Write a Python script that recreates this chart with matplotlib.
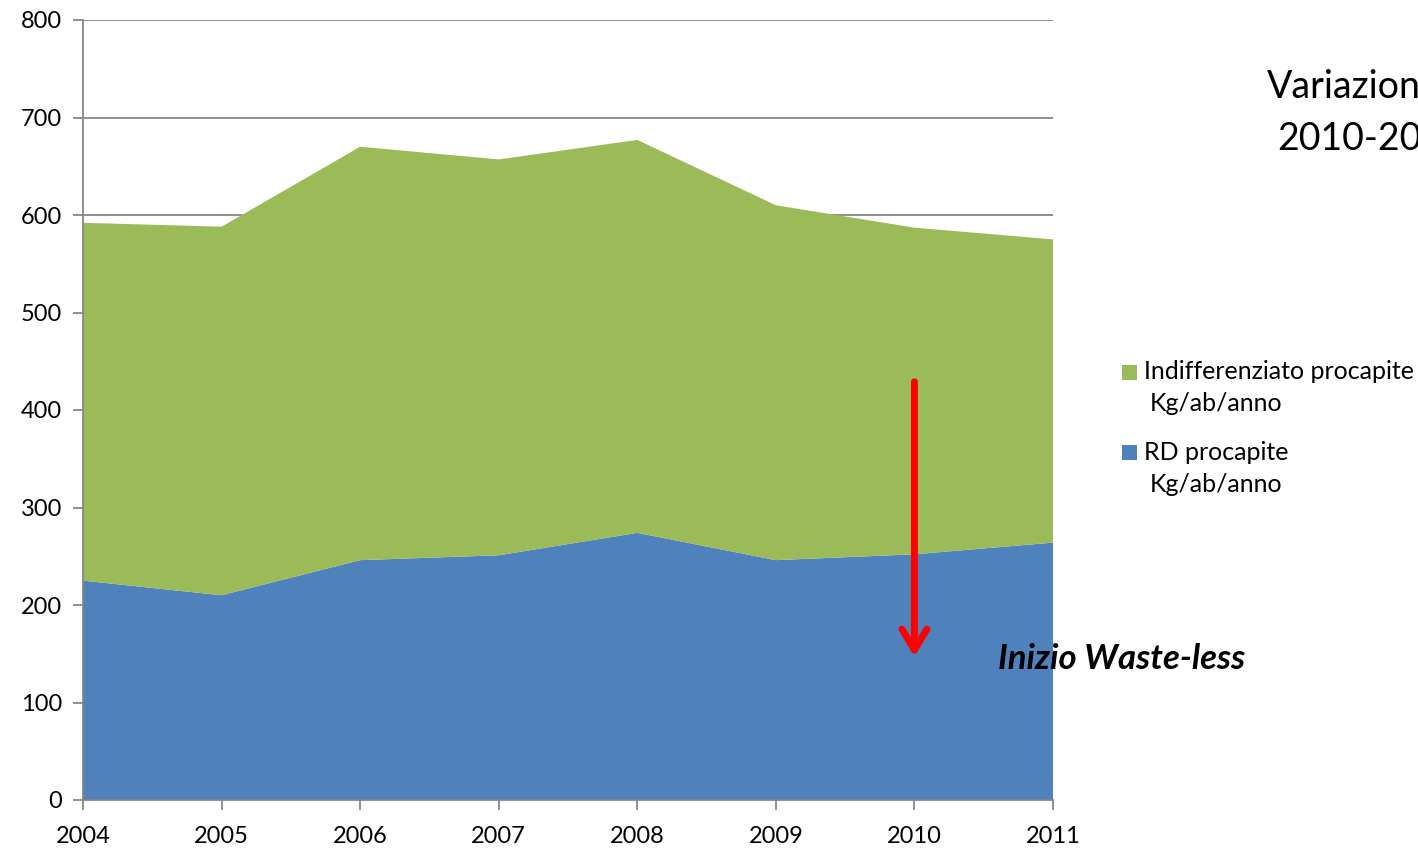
import matplotlib.pyplot as plt
from matplotlib.patches import Rectangle
import numpy as np

plt.rcParams['font.family'] = ['Lato', 'DejaVu Sans']

years = [2004, 2005, 2006, 2007, 2008, 2009, 2010, 2011]
rd = [225, 210, 246, 251, 274, 246, 252, 264]
indiff = [367, 378, 424, 406, 403, 364, 335, 311]
series_names = ['RD procapite', 'Indifferenziato procapite']
unit = 'Kg/ab/anno'

green = '#9BBB59'
blue = '#4F81BD'
grid_col = '#868686'

W, H = 1418, 848
fig = plt.figure(figsize=(W / 100, H / 100), dpi=100)
ax = fig.add_axes([83 / W, 48 / H, 970 / W, 780 / H])

ax.stackplot(years, rd, indiff, colors=[blue, green], zorder=2)

ax.set_xlim(2004, 2011)
ax.set_ylim(0, 800)
ax.set_xticks(years)
ax.set_yticks(np.arange(0, 801, 100))
ax.yaxis.grid(True, color=grid_col, linewidth=1.3, zorder=1)
ax.set_axisbelow(True)
for side in ['top', 'right']:
    ax.spines[side].set_visible(False)
for side in ['left', 'bottom']:
    ax.spines[side].set_color(grid_col)
    ax.spines[side].set_linewidth(1.3)
    ax.spines[side].set_zorder(3)
ax.tick_params(axis='both', colors=grid_col, length=7, width=1.3, labelcolor='black',
               labelsize=17)
ax.tick_params(axis='x', pad=12)
ax.tick_params(axis='y', pad=8)

# arrow at 2010
ax.annotate('', xy=(2010, 147), xytext=(2010, 429),
            arrowprops=dict(arrowstyle='->,head_length=1.5,head_width=0.9',
                            color='red', lw=5, shrinkA=0, shrinkB=0), zorder=5)
ax.text(2010.6, 145, 'Inizio Waste-less', fontsize=25, fontweight='bold',
        fontstyle='italic', ha='left', va='center', clip_on=False)

# title on the right, partly cut by the figure edge
fig.text(1267 / W, 1 - 87 / H, 'Variazione', fontsize=27, ha='left', va='center')
fig.text(1277 / W, 1 - 139 / H, '2010-2011', fontsize=27, ha='left', va='center')

# legend drawn by hand: square next to first line, unit on second line
entries = [(series_names[1], green, 372), (series_names[0], blue, 452)]
for name, col, ypx in entries:
    fig.patches.append(Rectangle((1122 / W, 1 - (ypx + 8) / H), 15 / W, 15 / H,
                                 transform=fig.transFigure, facecolor=col,
                                 edgecolor='none'))
    fig.text(1144 / W, 1 - ypx / H, name, fontsize=18, ha='left', va='center')
    fig.text(1150 / W, 1 - (ypx + 32) / H, unit, fontsize=18, ha='left', va='center')

fig.savefig('out.png', dpi=100)
